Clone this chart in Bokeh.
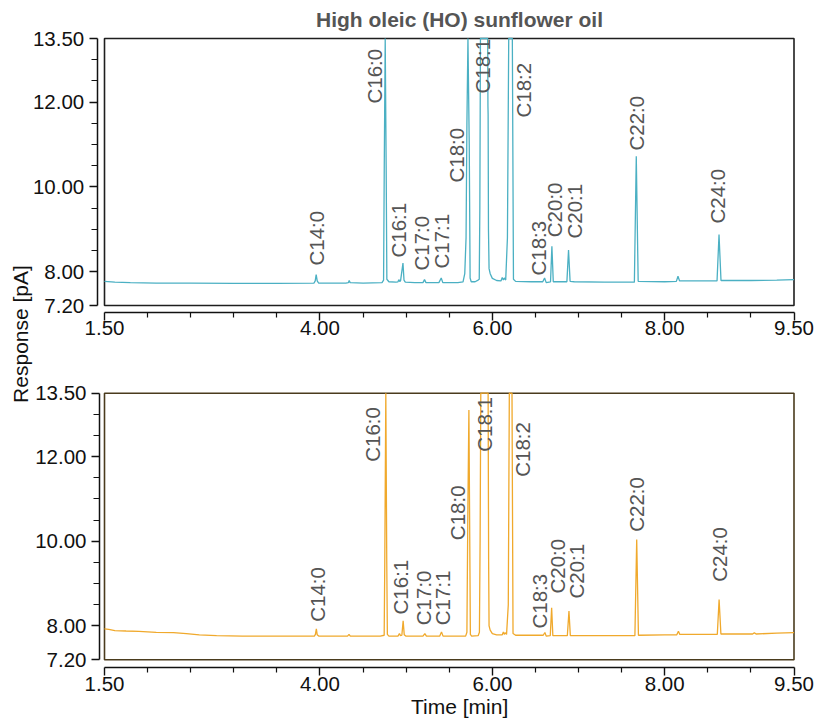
import numpy as np
from math import pi
from bokeh.plotting import figure
from bokeh.models import Range1d, FixedTicker, PrintfTickFormatter, Label, LinearAxis, Title
from bokeh.core.properties import value
from bokeh.embed import file_html
from bokeh.resources import INLINE

# ---------------- data ----------------
title_text = "High oleic (HO) sunflower oil"
x_label_text = "Time [min]"
y_label_text = "Response [pA]"

x_min, x_max = 1.5, 9.5
y_min, y_max = 7.2, 13.5
x_major = [1.5, 4.0, 6.0, 8.0, 9.5]
x_minor = [2.0, 2.5, 3.0, 3.5, 4.5, 5.0, 5.5, 6.5, 7.0, 7.5, 8.5, 9.0]
y_major = [7.2, 8.0, 10.0, 12.0, 13.5]
y_minor = [8.5, 9.0, 9.5, 10.5, 11.0, 11.5, 12.5, 13.0]

top_time = [1.50, 1.62, 1.80, 2.10, 2.50, 3.00, 3.50, 3.93, 3.945, 3.956, 3.968, 3.985,
            4.30, 4.33, 4.339, 4.35, 4.50, 4.72, 4.738, 4.746, 4.757, 4.768, 4.776, 4.80,
            4.88, 4.905, 4.915, 4.925, 4.935, 4.963, 4.975, 4.99, 5.10, 5.195, 5.213, 5.23,
            5.38, 5.407, 5.425, 5.60, 5.66, 5.68, 5.695, 5.705, 5.717, 5.732, 5.742, 5.755,
            5.80, 5.835, 5.848, 5.855, 5.862, 5.906, 5.946, 5.949, 5.951, 5.955, 5.962, 5.975,
            6.00, 6.05, 6.10, 6.115, 6.128, 6.14, 6.155, 6.175, 6.190, 6.213, 6.232, 6.245,
            6.27, 6.45, 6.585, 6.606, 6.625, 6.675, 6.691, 6.707, 6.75, 6.865, 6.884, 6.902,
            6.95, 7.30, 7.648, 7.670, 7.692, 8.00, 8.135, 8.154, 8.172, 8.40, 8.607, 8.630,
            8.653, 9.00, 9.30, 9.50]
top_resp = [7.77, 7.75, 7.74, 7.73, 7.73, 7.72, 7.72, 7.73, 7.78, 7.93, 7.78, 7.73,
            7.73, 7.74, 7.79, 7.74, 7.73, 7.74, 7.80, 10.5, 16.0, 10.5, 7.82, 7.76,
            7.75, 7.76, 7.81, 7.77, 7.78, 8.20, 7.80, 7.75, 7.74, 7.74, 7.81, 7.74,
            7.74, 7.85, 7.74, 7.74, 7.76, 7.95, 8.80, 11.5, 17.0, 11.0, 7.85, 7.76,
            7.76, 7.80, 7.82, 9.5, 14.0, 25.0, 14.0, 11.9, 11.7, 9.0, 8.07, 7.95,
            7.84, 7.79, 7.78, 7.86, 7.80, 7.85, 7.80, 8.8, 14.0, 20.0, 14.0, 7.82,
            7.77, 7.76, 7.76, 7.85, 7.74, 7.76, 8.60, 7.76, 7.76, 7.76, 8.51, 7.77,
            7.76, 7.75, 7.75, 10.72, 7.77, 7.76, 7.77, 7.89, 7.78, 7.78, 7.78, 8.875,
            7.79, 7.79, 7.80, 7.81]

bot_time = [1.50, 1.55, 1.62, 1.75, 1.90, 2.10, 2.30, 2.45, 2.60, 2.80, 3.10, 3.50,
            3.935, 3.947, 3.958, 3.968, 3.985, 4.32, 4.337, 4.352, 4.70, 4.745, 4.752, 4.764,
            4.775, 4.782, 4.80, 4.905, 4.922, 4.935, 4.95, 4.965, 4.978, 4.995, 5.195, 5.217,
            5.235, 5.39, 5.41, 5.428, 5.69, 5.705, 5.715, 5.728, 5.738, 5.745, 5.76, 5.835,
            5.85, 5.858, 5.866, 5.913, 5.951, 5.957, 5.962, 5.975, 6.00, 6.05, 6.115, 6.128,
            6.138, 6.148, 6.165, 6.185, 6.197, 6.212, 6.228, 6.240, 6.27, 6.59, 6.61, 6.625,
            6.672, 6.688, 6.702, 6.87, 6.889, 6.905, 7.10, 7.654, 7.675, 7.695, 8.00, 8.14,
            8.159, 8.175, 8.61, 8.631, 8.652, 9.02, 9.04, 9.06, 9.30, 9.50]
bot_resp = [7.93, 7.92, 7.89, 7.88, 7.87, 7.85, 7.84, 7.82, 7.79, 7.77, 7.76, 7.76,
            7.76, 7.80, 7.93, 7.79, 7.76, 7.76, 7.80, 7.76, 7.76, 7.78, 9.5, 14.0,
            9.5, 7.80, 7.76, 7.76, 7.82, 7.77, 7.78, 8.12, 7.79, 7.76, 7.76, 7.82,
            7.76, 7.76, 7.86, 7.76, 7.76, 7.85, 10.5, 13.10, 10.0, 7.80, 7.76, 7.77,
            7.85, 10.0, 14.5, 16.0, 14.5, 9.5, 8.0, 7.90, 7.82, 7.79, 7.79, 7.86,
            7.80, 7.84, 7.80, 8.5, 14.0, 16.0, 14.0, 7.82, 7.78, 7.78, 7.845, 7.76,
            7.77, 8.43, 7.77, 7.77, 8.35, 7.77, 7.77, 7.77, 10.04, 7.78, 7.79, 7.79,
            7.876, 7.80, 7.80, 8.625, 7.81, 7.81, 7.84, 7.81, 7.83, 7.84]

peak_names = ["C14:0", "C16:0", "C16:1", "C17:0", "C17:1", "C18:0", "C18:1",
              "C18:2", "C18:3", "C20:0", "C20:1", "C22:0", "C24:0"]
top_label_time = [3.956, 4.635, 4.916, 5.175, 5.407, 5.581, 5.891,
                  6.367, 6.536, 6.722, 6.954, 7.670, 8.618]
top_label_resp = [8.144, 11.966, 8.332, 8.026, 8.073, 10.102, 12.202,
                  11.636, 7.908, 8.811, 8.781, 10.857, 9.135]
bot_label_time = [3.966, 4.609, 4.934, 5.205, 5.422, 5.596, 5.913,
                  6.351, 6.544, 6.753, 6.977, 7.675, 8.635]
bot_label_resp = [8.098, 11.879, 8.271, 8.018, 8.018, 10.027, 12.115,
                  11.525, 7.940, 8.767, 8.649, 10.225, 9.043]

# ---------------- style / geometry (canvas pixels) ----------------
FONT = "Liberation Sans"
TOP_COLOR = "#4bb0c3"
BOT_COLOR = "#f0a92c"
LABEL_COLOR = "#555555"
AX_COLOR = "#111111"
W, H = 816, 722

# the frame covers almost the whole canvas; both panels live inside it
frame_l, frame_r, frame_t, frame_b = 28, W, 0, 667
box_l, box_r = 104.0, 793.5
top_box_t, top_box_b = 38.0, 305.0
bot_box_t, bot_box_b = 392.7, 659.3
top_xaxis_px = 311.7
top_yaxis_px = 96.7
bot_yaxis_px = 99.0

ppx = (box_r - box_l) / (x_max - x_min)
ppy_t = (top_box_b - top_box_t) / (y_max - y_min)
ppy_b = (bot_box_b - bot_box_t) / (y_max - y_min)

x_range = Range1d(x_min - (box_l - frame_l) / ppx, x_max + (frame_r - box_r) / ppx)
y_top = Range1d(y_min - (frame_b - top_box_b) / ppy_t, y_max + (top_box_t - frame_t) / ppy_t)
y_bot = Range1d(y_min - (frame_b - bot_box_b) / ppy_b, y_max + (bot_box_t - frame_t) / ppy_b)

p = figure(width=W, height=H, x_range=x_range, y_range=y_top, title=None,
           x_axis_location=None, y_axis_location=None,
           output_backend="svg", toolbar_location=None,
           min_border_left=frame_l, min_border_right=W - frame_r,
           min_border_top=frame_t, min_border_bottom=H - frame_b)
p.extra_y_ranges = {"bot": y_bot}
p.outline_line_color = None
p.background_fill_color = "white"
p.border_fill_color = "white"
p.xgrid.visible = False
p.ygrid.visible = False


def style_axis(ax, horizontal):
    ax.ticker = FixedTicker(ticks=x_major if horizontal else y_major,
                            minor_ticks=x_minor if horizontal else y_minor)
    ax.formatter = PrintfTickFormatter(format="%.2f")
    ax.bounds = (x_min, x_max) if horizontal else (y_min, y_max)
    ax.axis_line_color = AX_COLOR
    ax.axis_line_width = 1.5
    ax.major_tick_line_color = AX_COLOR
    ax.minor_tick_line_color = AX_COLOR
    ax.major_tick_line_width = 1.4
    ax.minor_tick_line_width = 1.2
    ax.major_tick_in = 0
    ax.major_tick_out = 8
    ax.minor_tick_in = 0
    ax.minor_tick_out = 5 if horizontal else 6
    ax.major_label_text_font = FONT
    ax.major_label_text_font_size = "20.5px"
    ax.major_label_text_color = AX_COLOR
    ax.major_label_standoff = 1 if horizontal else 5


# bottom x axis at the frame's lower edge
xb = LinearAxis()
style_axis(xb, True)
p.add_layout(xb, "below")

# shared y axis title: an axis with no ticks, only its label
ylab = LinearAxis(ticker=FixedTicker(ticks=[]), axis_label=y_label_text,
                  axis_line_color=None, major_tick_out=0, major_tick_in=0,
                  minor_tick_out=0, minor_tick_in=0, major_label_standoff=0,
                  axis_label_standoff=-3, axis_label_text_font=FONT,
                  axis_label_text_font_size="21px", axis_label_text_font_style="normal",
                  axis_label_text_color=AX_COLOR)
p.add_layout(ylab, "left")

# panel axes placed at fixed positions inside the frame
xt = LinearAxis(fixed_location=y_min - (top_xaxis_px - top_box_b) / ppy_t)
style_axis(xt, True)
p.add_layout(xt, "below")
yt = LinearAxis(fixed_location=x_min - (box_l - top_yaxis_px) / ppx)
style_axis(yt, False)
p.add_layout(yt, "left")
yb = LinearAxis(y_range_name="bot", fixed_location=x_min - (box_l - bot_yaxis_px) / ppx)
style_axis(yb, False)
p.add_layout(yb, "left")

# x axis title
p.add_layout(Title(text=x_label_text, align="left", offset=410.5 - frame_l, vertical_align="top",
                   standoff=2, text_font=FONT, text_font_size="21px",
                   text_font_style="normal", text_color=AX_COLOR), "below")

# boxes
p.quad(left=[x_min], right=[x_max], bottom=[y_min], top=[y_max],
       fill_color=None, line_color="#1e1e1e", line_width=1.6)
p.quad(left=[x_min], right=[x_max], bottom=[y_min], top=[y_max], y_range_name="bot",
       fill_color=None, line_color="#4a3b1d", line_width=1.6)

# traces (off-scale peaks are cut at the top of the box)
p.line(top_time, np.minimum(np.array(top_resp), y_max), line_color=TOP_COLOR, line_width=1.3)
p.line(bot_time, np.minimum(np.array(bot_resp), y_max), line_color=BOT_COLOR, line_width=1.3,
       y_range_name="bot")

# peak labels
common = dict(angle=pi / 2, text_align="left", text_baseline="middle",
              text_font=value(FONT), text_font_size="20.5px", text_color=LABEL_COLOR)
p.text(x=top_label_time, y=top_label_resp, text=peak_names, **common)
p.text(x=bot_label_time, y=bot_label_resp, text=peak_names, y_range_name="bot", **common)

# chart title
p.add_layout(Label(x=x_min + (459 - box_l) / ppx, y=y_max + (top_box_t - 18.7) / ppy_t,
                   text=title_text, text_align="center", text_baseline="middle",
                   text_font=FONT, text_font_size="21px", text_font_style="bold",
                   text_color=LABEL_COLOR))

open("out.html", "w").write(file_html(p, INLINE))
